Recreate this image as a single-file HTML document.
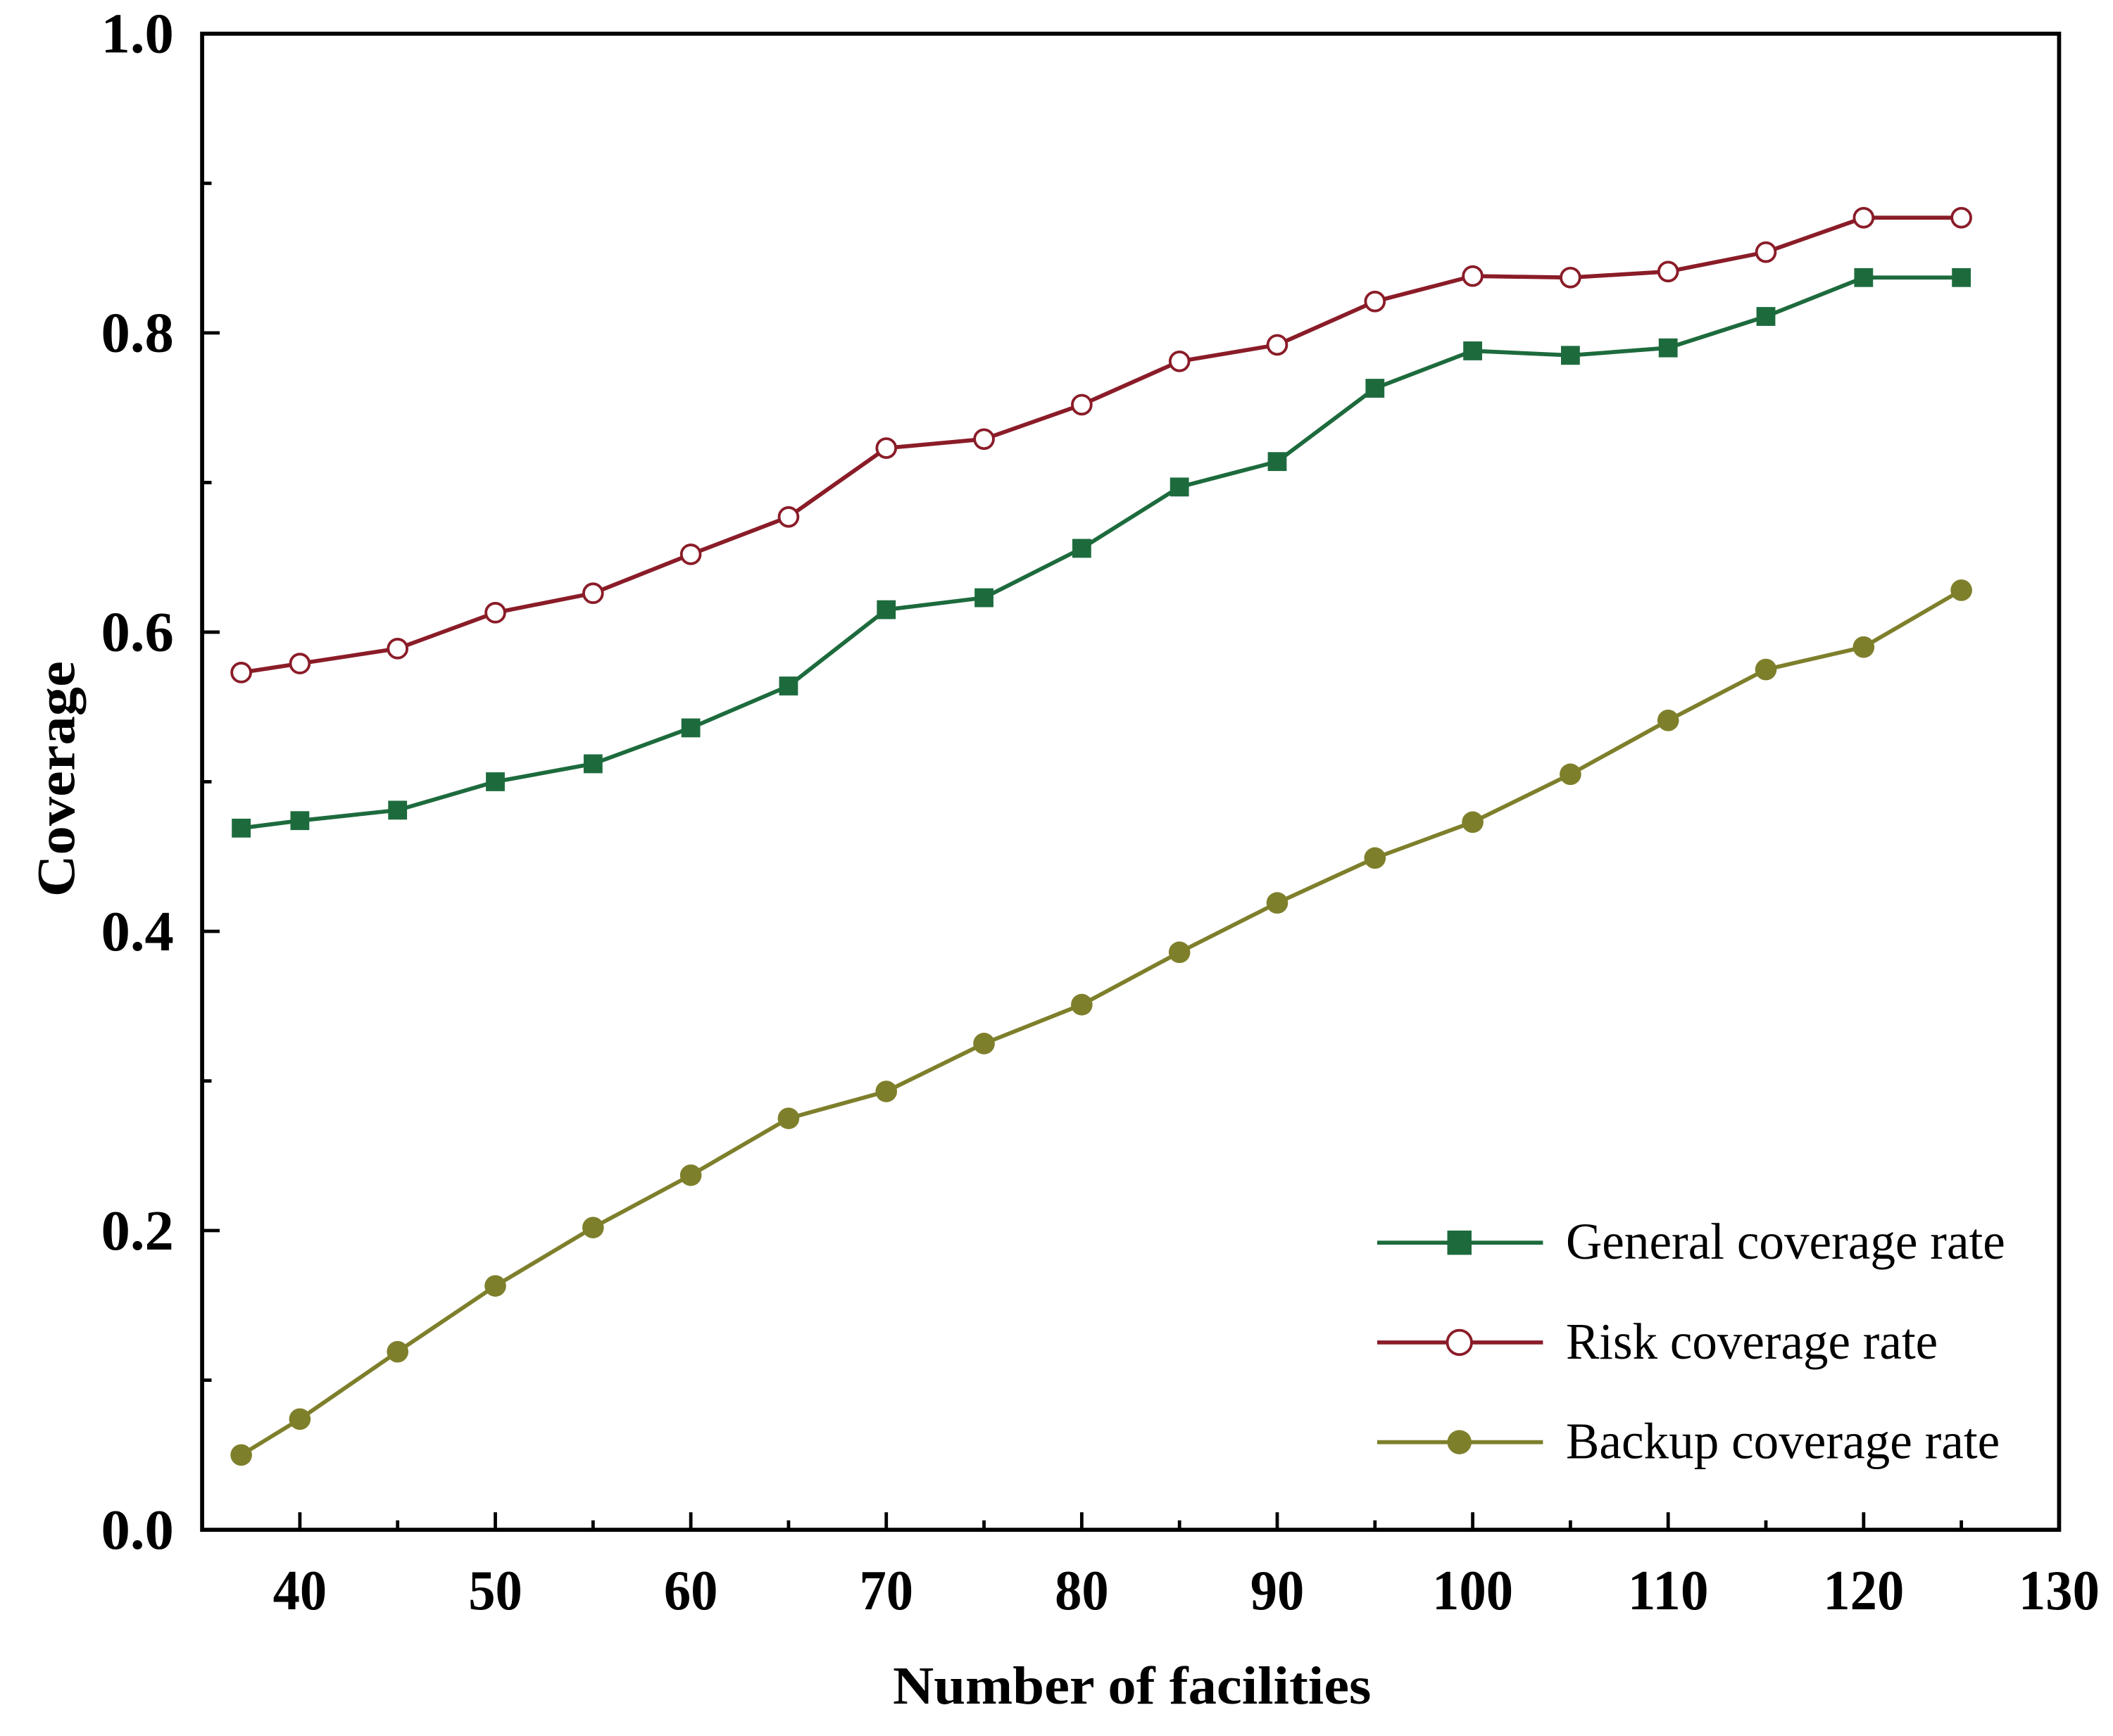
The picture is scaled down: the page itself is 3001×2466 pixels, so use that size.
<!DOCTYPE html>
<html><head><meta charset="utf-8">
<style>
html,body{margin:0;padding:0;background:#fff;}
svg{display:block;}
text{font-family:"Liberation Serif",serif;fill:#000;}
</style></head>
<body>
<svg id="chart" width="3001" height="2466" viewBox="0 0 1568 1288" preserveAspectRatio="none" xmlns="http://www.w3.org/2000/svg"></svg>
<script>
const categories = [37,40,45,50,55,60,65,70,75,80,85,90,95,100,105,110,115,120,125];
const generalValues = [0.469,0.474,0.481,0.500,0.512,0.536,0.564,0.615,0.623,0.656,0.697,0.714,0.763,0.788,0.785,0.790,0.811,0.837,0.837];
const riskValues = [0.573,0.579,0.589,0.613,0.626,0.652,0.677,0.723,0.729,0.752,0.781,0.792,0.821,0.838,0.837,0.841,0.854,0.877,0.877];
const backupValues = [0.050,0.074,0.119,0.163,0.202,0.237,0.275,0.293,0.325,0.351,0.386,0.419,0.449,0.473,0.505,0.541,0.575,0.590,0.628];
const xTickLabels = ["40","50","60","70","80","90","100","110","120","130"];
const yTickLabels = ["0.0","0.2","0.4","0.6","0.8","1.0"];

const NS = "http://www.w3.org/2000/svg";
const svg = document.getElementById('chart');
const L = 150, R = 1528, T = 25, B = 1135;
const xMin = 35, xMax = 130, yMin = 0, yMax = 1;
function xs(v){ return L + (v - xMin) / (xMax - xMin) * (R - L); }
function ys(v){ return B - (v - yMin) / (yMax - yMin) * (B - T); }
function mk(tag, attrs){ const e = document.createElementNS(NS, tag); for (const k in attrs) e.setAttribute(k, attrs[k]); svg.appendChild(e); return e; }

for (let v = 35; v <= 130; v += 5) {
  if (v === 35) continue;
  const major = v % 10 === 0;
  const t = mk('line', {x1: xs(v), x2: xs(v), y1: B, y2: B - (major ? 13 : 7), stroke: '#000', 'stroke-width': 2.5});
  
  
}
for (let i = 1; i < 10; i++) {
  const v = i / 10;
  const major = i % 2 === 0;
  const t = mk('line', {x1: L, x2: L + (major ? 13 : 7), y1: ys(v), y2: ys(v), stroke: '#000', 'stroke-width': 2.5});
  
  
}
const frame = mk('rect', {x: L, y: T, width: R - L, height: B - T, fill: 'none', stroke: '#000', 'stroke-width': 3});



xTickLabels.forEach(s => {
  const t = mk('text', {x: xs(+s), y: 1194, 'text-anchor': 'middle', 'font-size': 42, 'font-weight': 'bold', textLength: s.length * 20, lengthAdjust: 'spacingAndGlyphs'});
  t.textContent = s;
  
  
});
yTickLabels.forEach(s => {
  const t = mk('text', {x: 129, y: ys(+s) + 14, 'text-anchor': 'end', 'font-size': 42, 'font-weight': 'bold', textLength: 54, lengthAdjust: 'spacingAndGlyphs'});
  t.textContent = s;
  
  
});

const xt = mk('text', {x: 840, y: 1264, 'text-anchor': 'middle', 'font-size': 40, 'font-weight': 'bold', textLength: 355, lengthAdjust: 'spacingAndGlyphs'});
xt.textContent = 'Number of facilities';


const yt = mk('text', {x: 0, y: 0, 'text-anchor': 'middle', 'font-size': 40, 'font-weight': 'bold', textLength: 175, lengthAdjust: 'spacingAndGlyphs', transform: 'translate(55,578) rotate(-90)'});
yt.textContent = 'Coverage';



const series = [
  {name: 'general', vals: generalValues, color: '#1d6b3d', marker: 'square'},
  {name: 'risk', vals: riskValues, color: '#8a1c28', marker: 'open-circle'},
  {name: 'backup', vals: backupValues, color: '#7e7f2b', marker: 'circle'}
];
function marker(type, x, y, color){
  let e;
  if (type === 'square') e = mk('rect', {x: x - 7, y: y - 7, width: 14, height: 14, fill: color});
  else if (type === 'open-circle') e = mk('circle', {cx: x, cy: y, r: 7, fill: '#fff', stroke: color, 'stroke-width': 2});
  else e = mk('circle', {cx: x, cy: y, r: 8, fill: color});
  return e;
}
series.forEach(s => {
  const pts = categories.map((c, i) => xs(c) + ',' + ys(s.vals[i])).join(' ');
  const pl = mk('polyline', {points: pts, fill: 'none', stroke: s.color, 'stroke-width': 3});
  
  
  categories.forEach((c, i) => {
    const m = marker(s.marker, xs(c), ys(s.vals[i]), s.color);
    
    
  });
});

const legendItems = [
  {label: 'General coverage rate', color: '#1d6b3d', marker: 'square', y: 922, w: 326},
  {label: 'Risk coverage rate', color: '#8a1c28', marker: 'open-circle', y: 996, w: 276},
  {label: 'Backup coverage rate', color: '#7e7f2b', marker: 'circle', y: 1070, w: 322}
];
legendItems.forEach(li => {
  const ln = mk('line', {x1: 1022, x2: 1145, y1: li.y, y2: li.y, stroke: li.color, 'stroke-width': 3});
  
  
  const m = marker(li.marker, 1083, li.y, li.color);
  if (li.marker === 'square') { m.setAttribute('x', 1083 - 9); m.setAttribute('y', li.y - 9); m.setAttribute('width', 18); m.setAttribute('height', 18); }
  else m.setAttribute('r', 9);
  
  
  const t = mk('text', {x: 1162, y: li.y + 12, 'font-size': 38, textLength: li.w, lengthAdjust: 'spacingAndGlyphs'});
  t.textContent = li.label;
  
  
});
</script>
</body></html>
